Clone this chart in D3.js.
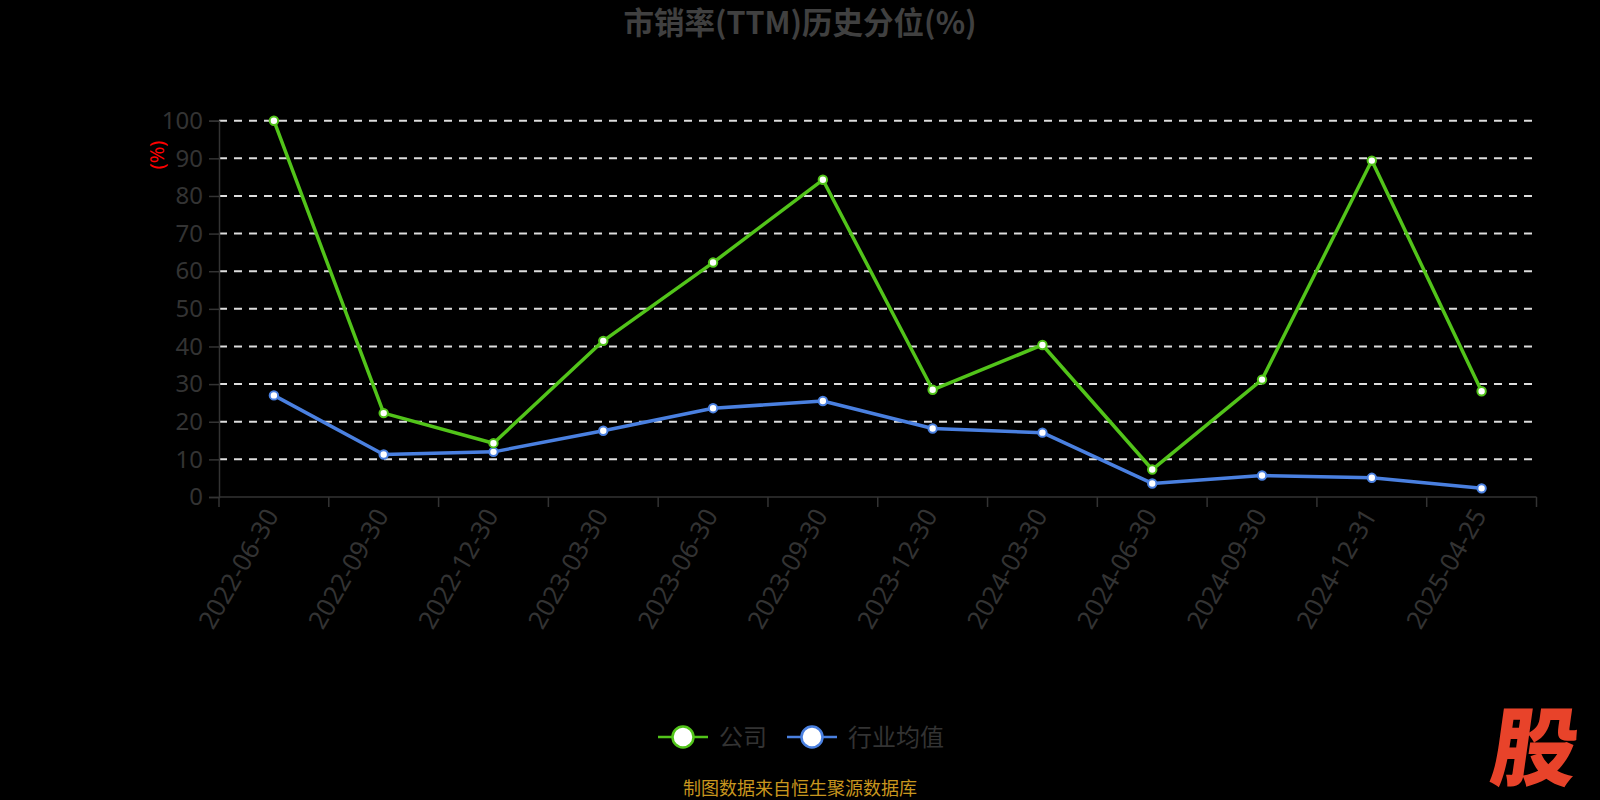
<!DOCTYPE html>
<html>
<head>
<meta charset="utf-8">
<script src="https://cdn.jsdelivr.net/npm/d3@7"></script>
<style>
  html, body { margin: 0; padding: 0; background: #000; }
  svg { display: block; }
</style>
</head>
<body>
<svg id="chart" width="1600" height="800"></svg>
<script>
const categories = ["2022-06-30","2022-09-30","2022-12-30","2023-03-30","2023-06-30","2023-09-30","2023-12-30","2024-03-30","2024-06-30","2024-09-30","2024-12-31","2025-04-25"];
const companyValues = [100, 22.3, 14.3, 41.5, 62.3, 84.3, 28.5, 40.4, 7.3, 31.2, 89.4, 28.1];
const industryValues = [27.0, 11.3, 12.0, 17.6, 23.6, 25.5, 18.2, 17.1, 3.6, 5.7, 5.1, 2.3];
const yTicks = [0, 10, 20, 30, 40, 50, 60, 70, 80, 90, 100];
const seriesNames = ["公司", "行业均值"];
const seriesColors = ["#52c41a", "#4a80e0"];

const FONT = "'Noto Sans', 'Noto Sans CJK SC', sans-serif";
const svg = d3.select("#chart");
svg.append("rect").attr("width", 1600).attr("height", 800).attr("fill", "#000");

const L = 219, R = 1536.5, T = 120.7, B = 497;
const x = d3.scaleBand().domain(categories).range([L, R]);
const y = d3.scaleLinear().domain([0, 100]).range([B, T]);

// title
svg.append("text").attr("x", 800).attr("y", 34).attr("text-anchor", "middle")
  .attr("font-family", "'Noto Sans CJK SC', sans-serif").attr("font-weight", "bold")
  .attr("font-size", 30.5).attr("fill", "#404040").text("市销率(TTM)历史分位(%)");

// grid lines
svg.append("g").selectAll("line").data(yTicks.filter(d => d > 0)).join("line")
  .attr("x1", L).attr("x2", R).attr("y1", d => y(d)).attr("y2", d => y(d))
  .attr("stroke", "#dddddd").attr("stroke-width", 2).attr("stroke-dasharray", "8,7");

// y axis
const yAxis = d3.axisLeft(y).tickValues(yTicks).tickSize(10).tickPadding(6);
const gy = svg.append("g").attr("transform", `translate(${L},0)`).call(yAxis);
gy.select(".domain").attr("stroke", "#333").attr("stroke-width", 1.5);
gy.selectAll(".tick line").attr("stroke", "#333").attr("stroke-width", 1.5);
gy.selectAll(".tick text").attr("font-family", FONT).attr("font-size", 24).attr("fill", "#333");

// x axis
const xTickPos = categories.map(c => x(c)).concat([R]);
const gx = svg.append("g");
gx.append("line").attr("x1", L).attr("x2", R).attr("y1", B).attr("y2", B)
  .attr("stroke", "#333").attr("stroke-width", 1.5);
gx.selectAll("line.tk").data(xTickPos).join("line").attr("class", "tk")
  .attr("x1", d => d).attr("x2", d => d).attr("y1", B).attr("y2", B + 10)
  .attr("stroke", "#333").attr("stroke-width", 1.5);
gx.selectAll("text").data(categories).join("text")
  .attr("transform", d => `translate(${x(d) + x.bandwidth() / 2 - 2},${B + 14}) rotate(-60)`)
  .attr("text-anchor", "end").attr("dy", "0.35em")
  .attr("font-family", FONT).attr("font-size", 25.5).attr("fill", "#333").text(d => d);

// y axis name
svg.append("text").attr("transform", "translate(157,155) rotate(-90)")
  .attr("text-anchor", "middle").attr("dy", "0.35em")
  .attr("font-family", FONT).attr("font-size", 20).attr("fill", "#ff0000").text("(%)");

// lines
const cx = d => x(d) + x.bandwidth() / 2;
[companyValues, industryValues].forEach((vals, i) => {
  const pts = categories.map((c, k) => [cx(c), y(vals[k])]);
  svg.append("path").attr("d", d3.line()(pts)).attr("fill", "none")
    .attr("stroke", seriesColors[i]).attr("stroke-width", 3.5).attr("stroke-linejoin", "round");
});
[industryValues, companyValues].forEach((vals, j) => {
  const i = j === 0 ? 1 : 0;
  svg.append("g").selectAll("circle").data(categories).join("circle")
    .attr("cx", d => cx(d)).attr("cy", (d, k) => y(vals[k])).attr("r", 4.2)
    .attr("fill", "#fff").attr("stroke", seriesColors[i]).attr("stroke-width", 2);
});

// legend
const legendItems = [
  { name: seriesNames[0], color: seriesColors[0], x0: 658 },
  { name: seriesNames[1], color: seriesColors[1], x0: 787 }
];
const LY = 737;
legendItems.forEach(it => {
  const g = svg.append("g");
  g.append("line").attr("x1", it.x0).attr("x2", it.x0 + 50).attr("y1", LY).attr("y2", LY)
    .attr("stroke", it.color).attr("stroke-width", 2.5);
  g.append("circle").attr("cx", it.x0 + 25).attr("cy", LY).attr("r", 10.5)
    .attr("fill", "#fff").attr("stroke", it.color).attr("stroke-width", 2.5);
  g.append("text").attr("x", it.x0 + 61).attr("y", LY).attr("dy", "0.36em")
    .attr("font-family", "'Noto Sans CJK SC', sans-serif").attr("font-size", 24)
    .attr("fill", "#333").text(it.name);
});

// source
svg.append("text").attr("x", 800).attr("y", 789).attr("dy", "0.36em").attr("text-anchor", "middle")
  .attr("font-family", "'Noto Sans CJK SC', sans-serif").attr("font-size", 18)
  .attr("fill", "#c8961e").text("制图数据来自恒生聚源数据库");

// watermark
svg.append("text").attr("transform", "translate(1531,779) skewX(-8)")
  .attr("text-anchor", "middle")
  .attr("font-family", "'Noto Sans CJK SC', sans-serif").attr("font-weight", 900)
  .attr("font-size", 86).attr("fill", "#e8432a").text("股");
</script>
</body>
</html>
